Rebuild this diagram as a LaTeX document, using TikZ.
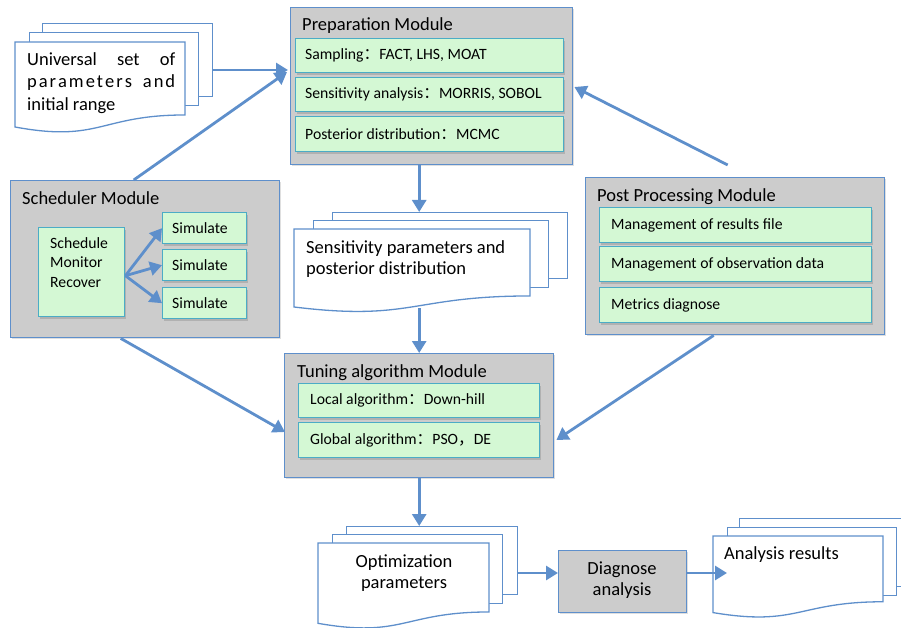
\documentclass[tikz,border=0pt]{standalone}
\usepackage{fontspec}
\setmainfont{Carlito}
\newfontfamily\cjk{Noto Sans CJK SC}
\usetikzlibrary{arrows.meta,shadows,calc}
\definecolor{bord}{HTML}{5E8FCB}
\definecolor{modfill}{HTML}{CCCCCC}
\definecolor{lgreen}{HTML}{D4F8D4}
\definecolor{gborder}{HTML}{4BACC6}
\newcommand\fc{{\cjk ：}}
\newcommand\fcm{{\cjk ，}}
\newcommand\docfront[4]{%
  \draw[docpage] (#1,#2) -- (#3,#2) -- (#3,{#2+0.802*#4})
    .. controls ({(#1+#3)/2},{#2+0.802*#4}) and ({(#1+#3)/2},{#2+1.1075*#4}) .. (#1,{#2+0.934*#4}) -- cycle;}
\tikzset{
  module/.style={draw=bord, line width=1.4pt, fill=modfill, inner sep=0pt, anchor=north west,
    drop shadow={shadow xshift=1.5pt, shadow yshift=-1.5pt, opacity=0.25}},
  inbox/.style={draw=gborder, line width=1.4pt, fill=lgreen, inner sep=0pt, anchor=north west,
    drop shadow={shadow xshift=1.5pt, shadow yshift=-2pt, opacity=0.35}},
  backpage/.style={draw=bord, line width=1.3pt, fill=white, inner sep=0pt, anchor=north west},
  docpage/.style={draw=bord, line width=1.3pt, fill=white},
  ttl/.style={font=\fontsize{18.5}{22}\selectfont, inner sep=0pt, anchor=base west},
  itext/.style={font=\fontsize{15.7}{19.5}\selectfont, inner sep=0pt, anchor=west},
  dtext/.style={font=\fontsize{18.5}{21}\selectfont, inner sep=0pt},
  arr/.style={draw=bord, line width=2.8pt, -{Triangle[length=12pt,width=14pt]}},
}
\begin{document}
\begin{tikzpicture}[x=1pt,y=-1pt]
\useasboundingbox (0,0) rectangle (901,628);
\clip (0,0) rectangle (901,628);

% ---------- Preparation module
\node[module, minimum width=282pt, minimum height=157pt] (prep) at (290,7) {};
\node[ttl] (prepT) at (302,31) {Preparation Module};
\node[inbox, minimum width=268pt, minimum height=34pt] (samp) at (295,38) {};
\node[inbox, minimum width=268pt, minimum height=34pt] (sens) at (295,77) {};
\node[inbox, minimum width=268pt, minimum height=35pt] (post) at (295,116) {};
\node[itext] (sampT) at ([xshift=10pt]samp.west) {Sampling\fc FACT, LHS, MOAT};
\node[itext] (sensT) at ([xshift=10pt]sens.west) {Sensitivity analysis\fc MORRIS, SOBOL};
\node[itext] (postT) at ([xshift=10pt]post.west) {Posterior distribution\fc MCMC};

% ---------- Scheduler module
\node[module, minimum width=269pt, minimum height=157pt] (sched) at (10,180) {};
\node[ttl] (schedT) at (22,205) {Scheduler Module};
\node[inbox, minimum width=86pt, minimum height=89pt] (sbox) at (38,227) {};
\node[font=\fontsize{15.7}{19.5}\selectfont, inner sep=0pt, anchor=north west, align=left] (sboxT) at (50,237) {Schedule\\Monitor\\Recover};
\node[inbox, minimum width=84pt, minimum height=31pt] (sim1) at (162,212) {};
\node[inbox, minimum width=84pt, minimum height=31pt] (sim2) at (162,249) {};
\node[inbox, minimum width=84pt, minimum height=31pt] (sim3) at (162,287) {};
\node[itext] (sim1T) at ([xshift=10pt]sim1.west) {Simulate};
\node[itext] (sim2T) at ([xshift=10pt]sim2.west) {Simulate};
\node[itext] (sim3T) at ([xshift=10pt]sim3.west) {Simulate};

% ---------- Post processing module
\node[module, minimum width=299pt, minimum height=157pt] (postm) at (585,177) {};
\node[ttl] (postmT) at (597,202) {Post Processing Module};
\node[inbox, minimum width=272pt, minimum height=35pt] (res) at (599,207) {};
\node[inbox, minimum width=272pt, minimum height=35pt] (obs) at (599,246) {};
\node[inbox, minimum width=272pt, minimum height=35pt] (met) at (599,287) {};
\node[itext] (resT) at ([xshift=12pt]res.west) {Management of results file};
\node[itext] (obsT) at ([xshift=12pt]obs.west) {Management of observation data};
\node[itext] (metT) at ([xshift=12pt]met.west) {Metrics diagnose};

% ---------- Tuning module
\node[module, minimum width=269pt, minimum height=124pt] (tun) at (284,353) {};
\node[ttl] (tunT) at (297,377) {Tuning algorithm Module};
\node[inbox, minimum width=241pt, minimum height=34pt] (loc) at (298,383) {};
\node[inbox, minimum width=241pt, minimum height=35pt] (glo) at (298,422) {};
\node[itext] (locT) at ([xshift=12pt]loc.west) {Local algorithm\fc Down-hill};
\node[itext] (gloT) at ([xshift=12pt]glo.west) {Global algorithm\fc PSO\fcm DE};

% ---------- Diagnose analysis
\node[module, minimum width=128pt, minimum height=62pt] (diag) at (558,550) {};
\node[dtext, anchor=north, align=center] (diagT) at (622,562) {Diagnose\\analysis};

% ---------- Documents
% universal set
\node[backpage, minimum width=170pt, minimum height=73pt] (univ3) at (42,23) {};
\node[backpage, minimum width=169pt, minimum height=73pt] (univ2) at (29,32) {};
\docfront{15}{42}{185}{91}
\node[dtext, anchor=north west, align=left, font=\fontsize{18.5}{22.5}\selectfont] (univT) at (27,52)
  {\makebox[148pt][s]{Universal\hfil set\hfil of}\\
   \makebox[148pt][s]{p\hfil a\hfil r\hfil a\hfil m\hfil e\hfil t\hfil e\hfil r\hfil s\hspace{9pt}\hfil a\hfil n\hfil d}\\
   initial range};
% sensitivity parameters
\node[backpage, minimum width=235pt, minimum height=66pt] (sens3) at (332,212) {};
\node[backpage, minimum width=235pt, minimum height=67pt] (sens2) at (313,220) {};
\docfront{294}{229}{530}{83.5}
\node[dtext, anchor=north west, align=left] (sensdT) at (306,240) {Sensitivity parameters and\\posterior distribution};
% optimization parameters
\node[backpage, minimum width=171pt, minimum height=68pt] (opt3) at (346,526) {};
\node[backpage, minimum width=170pt, minimum height=69pt] (opt2) at (332,534) {};
\docfront{318}{543}{489}{86}
\node[dtext, anchor=north, align=center] (optT) at (404,555) {Optimization\\parameters};
% analysis results
\node[backpage, minimum width=200pt, minimum height=68pt] (anal3) at (739,518) {};
\node[backpage, minimum width=169pt, minimum height=68pt] (anal2) at (727,527) {};
\docfront{713}{536}{883}{82}
\node[dtext, anchor=base west] (analT) at (724,559) {Analysis results};

% ---------- Connectors
\draw[arr] (univ3.east |- 0,70) -- ([xshift=-2pt]prep.west |- 0,70);
\draw[arr] ([xshift=-11.5pt]sched.north) -- ([xshift=-3pt]prep.west |- 0,72);
\draw[arr] ([xshift=-7.5pt,yshift=12pt]postm.north) -- ([xshift=1pt]prep.east |- 0,87);
\draw[arr] (tun.north |- prep.south) -- (tun.north |- sens3.north);
\draw[arr] (tun.north |- 0,308) -- (tun.north);
\draw[arr] ([xshift=-24.5pt]sched.south) -- ([xshift=1pt]tun.west |- 0,432);
\draw[arr] ([xshift=-21.5pt]postm.south) -- ([xshift=2pt]tun.east |- 0,440);
\draw[arr] (tun.south) -- (tun.south |- opt3.north);
\draw[arr] (opt3.east |- 0,573) -- (diag.west |- 0,573);
\draw[arr] (diag.east |- 0,573) -- (anal2.west |- 0,573);
\coordinate (hub) at ([yshift=-3.5pt]sbox.east);
\draw[arr] (hub) -- (sim1.west);
\draw[arr] (hub) -- (sim2.west);
\draw[arr] (hub) -- (sim3.west);
\end{tikzpicture}
\end{document}
